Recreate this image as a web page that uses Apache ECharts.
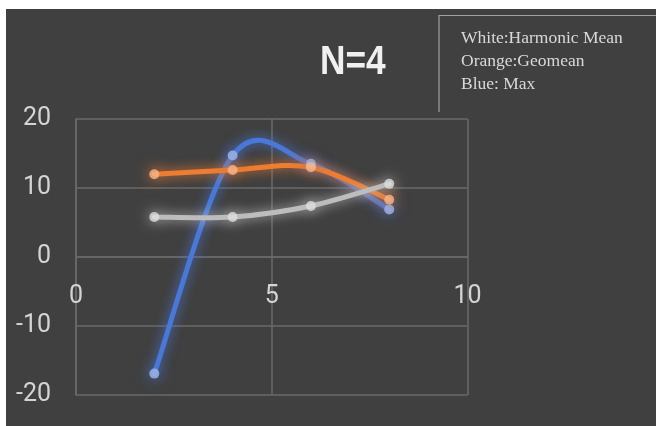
<!DOCTYPE html>
<html>
<head>
<meta charset="utf-8">
<script src="https://cdn.jsdelivr.net/npm/echarts@6/dist/echarts.min.js"></script>
<style>
  html, body { margin: 0; padding: 0; background: #ffffff; }
  #chart { width: 656px; height: 426px; }
</style>
</head>
<body>
<div id="chart"></div>
<script>
// Sample sizes on the x axis
const xValues = [2, 4, 6, 8];
// Series values
const harmonicMean = [5.8, 5.8, 7.4, 10.6];
const geomean = [12.0, 12.6, 13.0, 8.3];
const maxValues = [-16.9, 14.7, 13.5, 6.9];
// Text
const titleText = 'N=4';
const noteLines = ['White:Harmonic Mean', 'Orange:Geomean', 'Blue: Max'];

const pairs = (ys) => xValues.map((x, i) => [x, ys[i]]);

// Catmull-Rom style smoothing: each segment i -> i+1 is a cubic Bezier whose
// control points follow the neighbouring points (tangent = (next - prev) / 6).
function smoothSegment(color, width) {
  return function (params, api) {
    const n = params.dataInsideLength;
    const i = params.dataIndexInside;
    if (i >= n - 1) return null;
    const pt = (j) => {
      const k = Math.max(0, Math.min(n - 1, j));
      return api.coord([api.value(0, k), api.value(1, k)]);
    };
    const p0 = pt(i - 1), p1 = pt(i), p2 = pt(i + 1), p3 = pt(i + 2);
    const c1 = [p1[0] + (p2[0] - p0[0]) / 6, p1[1] + (p2[1] - p0[1]) / 6];
    const c2 = [p2[0] - (p3[0] - p1[0]) / 6, p2[1] - (p3[1] - p1[1]) / 6];
    return {
      type: 'bezierCurve',
      shape: { x1: p1[0], y1: p1[1], cpx1: c1[0], cpy1: c1[1], cpx2: c2[0], cpy2: c2[1], x2: p2[0], y2: p2[1] },
      style: { stroke: color, lineWidth: width, fill: null, lineCap: 'round', shadowColor: color, shadowBlur: 12 }
    };
  };
}

function curveSeries(name, ys, color) {
  return {
    name: name,
    type: 'custom',
    data: pairs(ys),
    encode: { x: 0, y: 1 },
    renderItem: smoothSegment(color, 5),
    clip: false,
    z: 3
  };
}

function markerSeries(name, ys, color, markerColor) {
  return {
    name: name,
    type: 'scatter',
    data: pairs(ys),
    symbol: 'circle',
    symbolSize: 10,
    itemStyle: { color: markerColor, shadowColor: color, shadowBlur: 16 },
    z: 4
  };
}

const chart = echarts.init(document.getElementById('chart'), null, { renderer: 'canvas' });
const axisTextColor = '#d4d4d4';
const gridColor = '#6a6a6a';
const labelFont = 'Roboto';

chart.setOption({
  backgroundColor: '#ffffff',
  animation: false,
  graphic: [
    { type: 'rect', shape: { x: 6, y: 9, width: 650, height: 417 }, style: { fill: '#404040' }, z: -10 },
    { type: 'polyline', shape: { points: [[439, 112], [439, 15.5], [656, 15.5]] },
      style: { stroke: '#a0a0a0', lineWidth: 1.2, fill: null }, z: 1 },
    { type: 'text', left: 461, top: 27,
      style: { text: noteLines.join('\n'), fill: '#d9d9d9', font: '17.5px "Liberation Serif"', lineHeight: 23 }, z: 2 },
    { type: 'text', x: 320, y: 42, scaleX: 0.86,
      style: { text: titleText, fill: '#f0f0f0', font: 'bold 41px "Liberation Sans"' }, z: 2 }
  ],
  grid: { left: 76, right: 188.5, top: 119, bottom: 31, containLabel: false, outerBoundsMode: 'none' },
  xAxis: {
    type: 'value', min: 0, max: 10, interval: 5,
    position: 'bottom',
    offset: -138,
    axisLine: { show: true, onZero: false, lineStyle: { color: gridColor, width: 1.5 } },
    axisTick: { show: false },
    axisLabel: { color: axisTextColor, fontSize: 25, fontFamily: labelFont, margin: 27 },
    splitLine: { show: true, lineStyle: { color: gridColor, width: 1.5 } }
  },
  yAxis: {
    type: 'value', min: -20, max: 20, interval: 10,
    axisLine: { show: true, onZero: false, lineStyle: { color: gridColor, width: 1.5 } },
    axisTick: { show: false },
    axisLabel: { color: axisTextColor, fontSize: 25, fontFamily: labelFont, margin: 25 },
    splitLine: { show: true, lineStyle: { color: gridColor, width: 1.5 } }
  },
  series: [
    curveSeries('Max', maxValues, '#4a78d8'),
    curveSeries('Geomean', geomean, '#ed7d31'),
    curveSeries('Harmonic Mean', harmonicMean, '#bdbdbd'),
    markerSeries('Max', maxValues, '#4a78d8', '#9fb8ee'),
    markerSeries('Geomean', geomean, '#ed7d31', '#f7b68a'),
    markerSeries('Harmonic Mean', harmonicMean, '#bdbdbd', '#dedede')
  ]
});
</script>
</body>
</html>
